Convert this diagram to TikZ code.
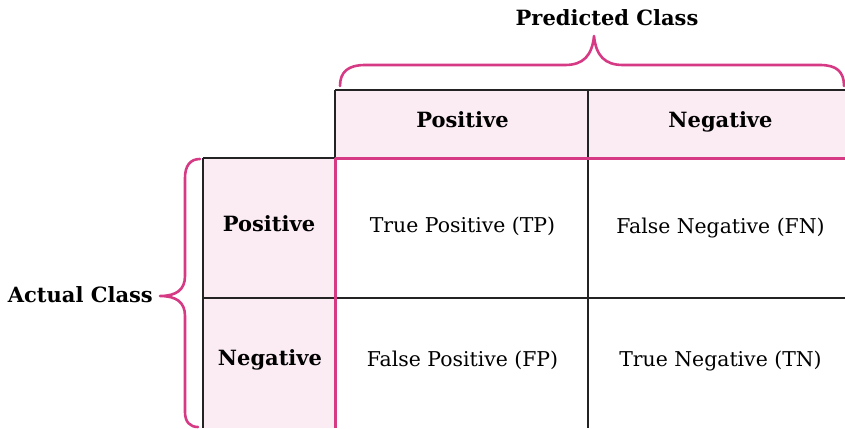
\documentclass[tikz,border=0pt]{standalone}
\usepackage{fontspec}
\usetikzlibrary{calc}
\setmainfont{DejaVu Serif}
\definecolor{brandpink}{RGB}{214,58,132}
\definecolor{softpink}{RGB}{251,236,243}
\definecolor{gridink}{RGB}{35,35,35}
\begin{document}
\begin{tikzpicture}[x=1pt,y=-1pt,
  cell/.style={rectangle,inner sep=0pt,outer sep=0pt,anchor=north west},
  headcell/.style={cell,fill=softpink},
  plaincell/.style={cell,fill=white},
  gridline/.style={draw=gridink,line width=1.8pt},
  pinkline/.style={draw=brandpink,line width=3pt},
  bracepath/.style={draw=brandpink,line width=2.6pt,line cap=round,line join=round},
  headtext/.style={font=\bfseries\fontsize{21}{24}\selectfont,text=black,anchor=base,inner sep=0pt},
  celltext/.style={font=\fontsize{20.4}{24}\selectfont,text=black,anchor=base,inner sep=0pt}]
\useasboundingbox (0,0) rectangle (845,428);
% header row and header column
\node[headcell,minimum width=253pt,minimum height=68pt] (hP) at (335,90) {};
\node[headcell,minimum width=257pt,minimum height=68pt] (hN) at (588,90) {};
\node[headcell,minimum width=132pt,minimum height=140pt] (rP) at (203,158) {};
\node[headcell,minimum width=132pt,minimum height=130pt] (rN) at (203,298) {};
% body cells
\node[plaincell,minimum width=253pt,minimum height=140pt] (TP) at (335,158) {};
\node[plaincell,minimum width=257pt,minimum height=140pt] (FN) at (588,158) {};
\node[plaincell,minimum width=253pt,minimum height=130pt] (FP) at (335,298) {};
\node[plaincell,minimum width=257pt,minimum height=130pt] (TN) at (588,298) {};
% grid lines
\draw[gridline] (hP.north west) -- (hN.north east);
\draw[gridline] (hP.north west) -- (hP.south west);
\draw[gridline] (rP.north west) -- (rP.north east);
\draw[gridline] (rP.north west) -- (rN.south west);
\draw[gridline] (rP.south west) -- (FN.south east);
\draw[gridline] (hN.north west) -- (TN.south west);
% pink separators between headers and body
\draw[pinkline] (hP.south west) -- (hN.south east);
\draw[pinkline] (TP.north west) -- (FP.south west);
% cell texts, placed on their baselines
\node[headtext] at ($(hP.center)+(1,3)$) {Positive};
\node[headtext] at ($(hN.center)+(4,3)$) {Negative};
\node[headtext] at ($(rP.center)+(0,3)$) {Positive};
\node[headtext] at ($(rN.center)+(1,2)$) {Negative};
\node[celltext] at ($(TP.center)+(1,4)$) {True Positive (TP)};
\node[celltext] at ($(FN.center)+(4,5)$) {False Negative (FN)};
\node[celltext] at ($(FP.center)+(1,3)$) {False Positive (FP)};
\node[celltext] at ($(TN.center)+(4,3)$) {True Negative (TN)};
% braces and class labels
\coordinate (tbL) at (340,86);
\coordinate (tbR) at (844,86);
\coordinate (tbTip) at (594,36);
\draw[bracepath] (tbL) .. controls (340,72) and (348,65) .. (365,65)
  -- (565,65) .. controls (583,65) and (592,56) .. (tbTip)
  .. controls (596,56) and (605,65) .. (623,65)
  -- (820,65) .. controls (837,65) and (844,72) .. (tbR);
\node[headtext] (pred) at (607,26) {Predicted Class};
\coordinate (lbT) at (200,159);
\coordinate (lbB) at (198,427);
\coordinate (lbTip) at (160,296);
\draw[bracepath] (lbT) .. controls (190,159) and (185,166) .. (185,178)
  -- (185,276) .. controls (185,290) and (176,296) .. (lbTip)
  .. controls (176,296) and (185,302) .. (185,316)
  -- (185,412) .. controls (185,422) and (190,427) .. (lbB);
\node[headtext,anchor=base east] (act) at (153,302) {Actual Class};
\end{tikzpicture}
\end{document}
